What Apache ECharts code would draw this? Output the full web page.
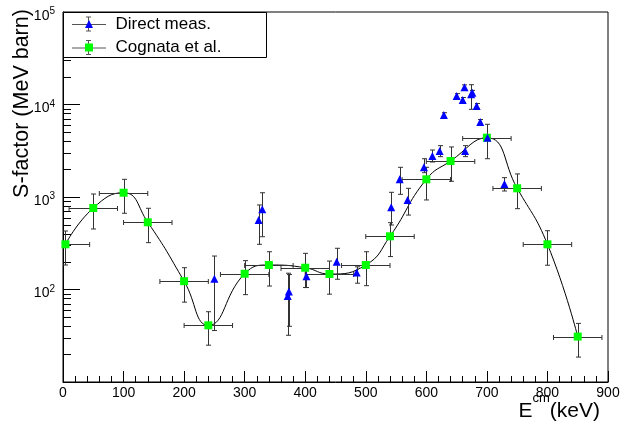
<!DOCTYPE html>
<html>
<head>
<meta charset="utf-8">
<script src="https://cdn.jsdelivr.net/npm/echarts@6/dist/echarts.min.js"></script>
<style>
html,body{margin:0;padding:0;background:#fff;}
#c{width:620px;height:429px;}
</style>
</head>
<body>
<div id="c"></div>
<script>
// ---- Data ----
// Cognata et al. (green squares, with x and y error bars, smooth curve)
const cogX     = [4, 50, 100, 140, 200, 240, 300, 340, 400, 440, 500, 540, 600, 640, 700, 750, 800, 850];
const cogY     = [308, 760, 1113, 533, 123, 41, 148, 184, 172, 147, 184, 376, 1553, 2449, 4375, 1242, 308, 31];
const cogXErr  = [40, 40, 40, 40, 40, 40, 40, 40, 40, 40, 40, 40, 40, 40, 40, 40, 40, 40];
const cogYLow  = [184, 451, 667, 321, 73, 25, 88, 109, 105, 89, 110, 227, 929, 1479, 2594, 748, 183, 18.6];
const cogYHigh = [429, 1077, 1553, 755, 172, 57.5, 205, 256, 246, 203, 256, 528, 2094, 3475, 6112, 1775, 432, 43];

// Direct measurements (blue triangles, y error bars)
const dirX     = [250, 323, 329, 371, 373, 402, 452, 485, 542, 556, 569, 596, 610, 622, 629, 650, 660, 663, 664, 674, 676, 683, 689, 701, 729];
const dirY     = [131, 564, 736, 85, 95, 139, 200, 153, 774, 1553, 929, 2094, 2775, 3142, 7697, 12360, 11190, 15350, 3142, 12890, 13400, 9640, 6470, 4375, 1383];
const dirYLow  = [36, 308, 372, 32, 40, 105, 129, 117, 498, 1069, 638, 1833, 2389, 2730, 7250, 11600, 10500, 14400, 2730, 8870, 12600, 9050, 6080, 4100, 1161];
const dirYHigh = [230, 820, 1112, 150, 145, 179, 279, 176, 1124, 2094, 1241, 2594, 3221, 3590, 8150, 13100, 11900, 16300, 3590, 16370, 14200, 10250, 6880, 4650, 1618];

// Axis settings
const xMin = 0, xMax = 900, xInterval = 100;
const yMin = 10, yMax = 100000;
const yMinorTicks = [20,30,40,50,60,70,80,90,200,300,400,500,600,700,800,900,2000,3000,4000,5000,6000,7000,8000,9000,20000,30000,40000,50000,60000,70000,80000,90000];

const seriesNames = ['Direct meas.', 'Cognata et al.'];
const xTitle = ['E', 'cm', '(keV)'];
const yTitle = 'S-factor (MeV barn)';

// ---- Chart ----
const FONT = "'Liberation Sans', Arial, Helvetica, sans-serif";
const chart = echarts.init(document.getElementById('c'), null, {renderer: 'canvas'});

function errorBarRenderer(withX, color) {
  return function (params, api) {
    const x = api.value(0), y = api.value(1);
    const c = api.coord([x, y]);
    const lo = api.coord([x, api.value(2)]);
    const hi = api.coord([x, api.value(3)]);
    const cap = 2.5;
    const st = {stroke: color, lineWidth: 1};
    const ch = [];
    const cx = Math.round(c[0]) + 0.5;
    if (Math.abs(lo[1] - hi[1]) > 1) {
      ch.push({type: 'line', shape: {x1: cx, y1: lo[1], x2: cx, y2: hi[1]}, style: st});
      ch.push({type: 'line', shape: {x1: cx - cap, y1: lo[1], x2: cx + cap, y2: lo[1]}, style: st});
      ch.push({type: 'line', shape: {x1: cx - cap, y1: hi[1], x2: cx + cap, y2: hi[1]}, style: st});
    }
    if (withX) {
      const l = api.coord([api.value(4), y]);
      const r = api.coord([api.value(5), y]);
      const cy = Math.round(c[1]) + 0.5;
      ch.push({type: 'line', shape: {x1: l[0], y1: cy, x2: r[0], y2: cy}, style: st});
      ch.push({type: 'line', shape: {x1: l[0], y1: cy - cap, x2: l[0], y2: cy + cap}, style: st});
      ch.push({type: 'line', shape: {x1: r[0], y1: cy - cap, x2: r[0], y2: cy + cap}, style: st});
    }
    return {type: 'group', children: ch};
  };
}

const cogPts = cogX.map((x, i) => [x, cogY[i]]);
const dirPts = dirX.map((x, i) => [x, dirY[i]]);
const cogErr = cogX.map((x, i) => [x, cogY[i], cogYLow[i], cogYHigh[i], x - cogXErr[i], x + cogXErr[i]]);
const dirErr = dirX.map((x, i) => [x, dirY[i], dirYLow[i], dirYHigh[i]]);

const legendCenters = [24, 47.5];
const legendGlyphs = [];
legendCenters.forEach(cy => {
  const st = {stroke: '#555', lineWidth: 1};
  legendGlyphs.push({type: 'line', z: 11, shape: {x1: 72, y1: cy + 0.5, x2: 106, y2: cy + 0.5}, style: st});
  legendGlyphs.push({type: 'line', z: 11, shape: {x1: 88.5, y1: cy - 7, x2: 88.5, y2: cy + 7}, style: st});
  legendGlyphs.push({type: 'line', z: 11, shape: {x1: 86, y1: cy - 7, x2: 91, y2: cy - 7}, style: st});
  legendGlyphs.push({type: 'line', z: 11, shape: {x1: 86, y1: cy + 7, x2: 91, y2: cy + 7}, style: st});
});

const option = {
  animation: false,
  backgroundColor: '#fff',
  textStyle: {fontFamily: FONT},
  grid: {
    left: 63, right: 12, top: 12, bottom: 47,
    show: true, borderColor: '#000', borderWidth: 1, backgroundColor: 'transparent',
    containLabel: false, outerBoundsMode: 'none'
  },
  legend: {
    orient: 'vertical',
    left: 85, top: 14, padding: 0,
    itemWidth: 43, itemHeight: 8, itemGap: 3.5,
    symbolKeepAspect: true,
    z: 12,
    textStyle: {fontSize: 17, color: '#000', fontFamily: FONT, lineHeight: 20},
    data: [
      {name: seriesNames[0], icon: 'path://M0,8 L4,0 L8,8 Z'},
      {name: seriesNames[1], icon: 'path://M0,0 L8,0 L8,8 L0,8 Z'}
    ]
  },
  xAxis: {
    type: 'value', min: xMin, max: xMax, interval: xInterval,
    axisLine: {show: true, lineStyle: {color: '#000', width: 1}},
    axisTick: {show: true, inside: true, length: 11, lineStyle: {color: '#000'}},
    minorTick: {show: true, splitNumber: 5, length: 6, lineStyle: {color: '#000'}},
    axisLabel: {fontSize: 14, color: '#000', margin: 4, fontFamily: FONT},
    splitLine: {show: false}, minorSplitLine: {show: false}
  },
  yAxis: {
    type: 'log', logBase: 10, min: yMin, max: yMax,
    axisLine: {show: true, lineStyle: {color: '#000', width: 1}},
    axisTick: {show: true, inside: true, length: 17, lineStyle: {color: '#000'}},
    axisLabel: {
      color: '#000', margin: 8, padding: [8, 0, 0, 0],
      formatter: v => (v < 50 ? '' : '{a|10}{b|' + Math.round(Math.log10(v)) + '}'),
      rich: {
        a: {fontSize: 14, lineHeight: 19, fontFamily: FONT, color: '#000'},
        b: {fontSize: 10, lineHeight: 10, verticalAlign: 'top', fontFamily: FONT, color: '#000'}
      }
    },
    splitLine: {show: false}
  },
  graphic: [
    {type: 'rect', z: 10, shape: {x: 63.5, y: 12.5, width: 203, height: 45},
     style: {fill: '#fff', stroke: '#000', lineWidth: 1}},
    ...legendGlyphs,
    {type: 'text', z: 12, x: 22, y: 103.5, rotation: Math.PI / 2,
     style: {text: yTitle, font: '21.5px ' + FONT, fill: '#000',
             textAlign: 'center', textVerticalAlign: 'middle', align: 'center', verticalAlign: 'middle'}},
    {type: 'text', z: 12, x: 600, y: 411.7,
     style: {text: '{a|' + xTitle[0] + '}{b|' + xTitle[1] + '}{a|' + xTitle[2] + '}',
             fill: '#000',
             textAlign: 'right', textVerticalAlign: 'middle', align: 'right', verticalAlign: 'middle',
             rich: {
               a: {fontSize: 21, lineHeight: 40, fontFamily: FONT, fill: '#000'},
               b: {fontSize: 13, lineHeight: 13, verticalAlign: 'top', fontFamily: FONT, fill: '#000'}
             }}}
  ],
  series: [
    {
      name: 'minor y ticks', type: 'custom', silent: true, z: 3,
      data: yMinorTicks.map(v => [xMin, v]),
      renderItem: (params, api) => {
        const p = api.coord([api.value(0), api.value(1)]);
        const y = Math.round(p[1]) + 0.5;
        return {type: 'line', shape: {x1: p[0], y1: y, x2: p[0] + 8, y2: y}, style: {stroke: '#000', lineWidth: 1}};
      }
    },
    {
      name: 'curve', type: 'line', data: cogPts, smooth: 0.5, showSymbol: false, symbol: 'none',
      lineStyle: {color: '#000', width: 1}, z: 2, silent: true
    },
    {
      name: 'cog err', type: 'custom', clip: true, z: 3, silent: true,
      data: cogErr, encode: {x: 0, y: 1},
      renderItem: errorBarRenderer(true, '#333')
    },
    {
      name: 'dir err', type: 'custom', clip: true, z: 3, silent: true,
      data: dirErr, encode: {x: 0, y: 1},
      renderItem: errorBarRenderer(false, '#333')
    },
    {
      name: seriesNames[1], type: 'scatter', data: cogPts, symbol: 'rect', symbolSize: 8,
      itemStyle: {color: '#00ff00', opacity: 1}, z: 4
    },
    {
      name: seriesNames[0], type: 'scatter', data: dirPts, symbol: 'triangle', symbolSize: 8,
      itemStyle: {color: '#0000ff', opacity: 1}, z: 5
    }
  ]
};
chart.setOption(option);
</script>
</body>
</html>
